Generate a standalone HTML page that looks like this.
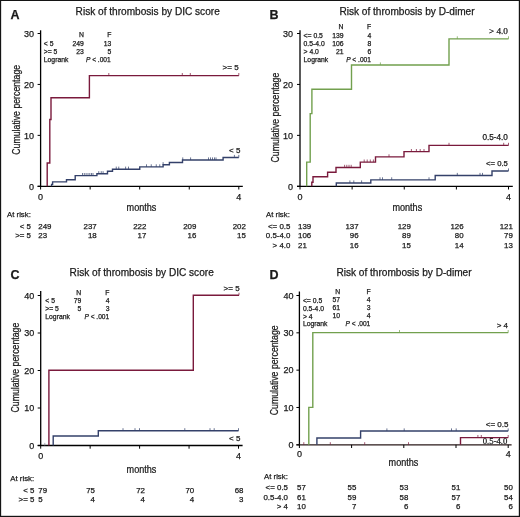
<!DOCTYPE html>
<html><head><meta charset="utf-8"><style>
html,body{margin:0;padding:0;background:#fff;}
body{width:520px;height:517px;overflow:hidden;}
svg{display:block;will-change:transform;}
text{font-family:"Liberation Sans",sans-serif;fill:#1a1a1a;stroke:#1a1a1a;stroke-width:0.25px;}
</style></head><body>
<svg width="520" height="517" viewBox="0 0 520 517">
<rect x="0" y="0" width="520" height="517" fill="#fff"/>
<text x="10.6" y="18.8" font-size="12.5" font-weight="bold" fill="#000">A</text>
<text x="75.6" y="14.8" font-size="10.1">Risk of thrombosis by DIC score</text>
<line x1="40.6" y1="30.3" x2="40.6" y2="186.9" stroke="#000" stroke-width="1.3"/>
<line x1="37.6" y1="186.3" x2="242.8" y2="186.3" stroke="#000" stroke-width="1.3"/>
<line x1="37.6" y1="186.30" x2="40.6" y2="186.30" stroke="#000" stroke-width="1"/>
<text x="34.0" y="189.50" font-size="9" text-anchor="end">0</text>
<line x1="37.6" y1="135.37" x2="40.6" y2="135.37" stroke="#000" stroke-width="1"/>
<text x="34.0" y="138.57" font-size="9" text-anchor="end">10</text>
<line x1="37.6" y1="84.43" x2="40.6" y2="84.43" stroke="#000" stroke-width="1"/>
<text x="34.0" y="87.63" font-size="9" text-anchor="end">20</text>
<line x1="37.6" y1="33.50" x2="40.6" y2="33.50" stroke="#000" stroke-width="1"/>
<text x="34.0" y="36.70" font-size="9" text-anchor="end">30</text>
<line x1="40.60" y1="186.3" x2="40.60" y2="189.5" stroke="#000" stroke-width="1"/>
<line x1="90.15" y1="186.3" x2="90.15" y2="189.5" stroke="#000" stroke-width="1"/>
<line x1="139.70" y1="186.3" x2="139.70" y2="189.5" stroke="#000" stroke-width="1"/>
<line x1="189.25" y1="186.3" x2="189.25" y2="189.5" stroke="#000" stroke-width="1"/>
<line x1="238.80" y1="186.3" x2="238.80" y2="189.5" stroke="#000" stroke-width="1"/>
<text x="40.60" y="199.8" font-size="9" text-anchor="middle">0</text>
<text x="238.80" y="199.8" font-size="9" text-anchor="middle">4</text>
<text transform="translate(20.0,109.8) rotate(-90) scale(0.875,1)" font-size="10" text-anchor="middle">Cumulative percentage</text>
<text transform="translate(126.6,211.0) scale(0.91,1)" font-size="10">months</text>
<path d="M47.2,186.3 V163 H49.8 V119.5 H51 V97.7 H89.4 V75.6 H238.8" fill="none" stroke="#7a1a3c" stroke-width="1.4" stroke-linejoin="miter" stroke-linecap="butt"/>
<path d="M108.8,75.6 v-2.6 M182.3,75.6 v-2.6 M190.3,75.6 v-2.6 M238.8,75.6 v-2.6" fill="none" stroke="#7a1a3c" stroke-width="0.85" opacity="0.85"/>
<path d="M51.6,186.3 V184.4 H52.6 V181.9 H66.5 V179.75 H75.2 V175.6 H96.9 V173.75 H107.5 V171.25 H112.5 V169.2 H139.75 V166.9 H163.1 V164.75 H169.4 V162.5 H182.5 V160 H223.1 V157.5 H238.8" fill="none" stroke="#34416a" stroke-width="1.4" stroke-linejoin="miter" stroke-linecap="butt"/>
<path d="M82.5,175.6 v-2.6 M84.3,175.6 v-2.6 M86.1,175.6 v-2.6 M88,175.6 v-2.6 M89.8,175.6 v-2.6 M91.5,175.6 v-2.6 M93,175.6 v-2.6 M98.75,173.75 v-2.6 M101.25,173.75 v-2.6 M103.1,173.75 v-2.6 M116.25,169.2 v-2.6 M118.75,169.2 v-2.6 M125.6,169.2 v-2.6 M128.5,169.2 v-2.6 M146.5,166.9 v-2.6 M151.25,166.9 v-2.6 M156.25,166.9 v-2.6 M159.75,166.9 v-2.6 M163.1,164.75 v-2.6 M182.75,160 v-2.6 M190.6,160 v-2.6 M208.5,160 v-2.6 M210.5,160 v-2.6 M212.5,160 v-2.6 M214.5,160 v-2.6 M216,160 v-2.6 M234.4,157.5 v-2.6 M238.8,157.5 v-2.6" fill="none" stroke="#34416a" stroke-width="0.85" opacity="0.85"/>
<text x="238.6" y="70.4" font-size="8" text-anchor="end">&gt;= 5</text>
<text x="240.4" y="152.6" font-size="8" text-anchor="end">&lt; 5</text>
<text x="83.9" y="37.2" font-size="6.8" text-anchor="end">N</text>
<text x="111.4" y="37.2" font-size="6.8" text-anchor="end">F</text>
<text x="43.8" y="45.5" font-size="6.8">&lt; 5</text>
<text x="83.9" y="45.5" font-size="6.8" text-anchor="end">249</text>
<text x="111.4" y="45.5" font-size="6.8" text-anchor="end">13</text>
<text x="43.8" y="53.5" font-size="6.8">&gt;= 5</text>
<text x="83.9" y="53.5" font-size="6.8" text-anchor="end">23</text>
<text x="111.4" y="53.5" font-size="6.8" text-anchor="end">5</text>
<text x="43.8" y="61.6" font-size="6.8">Logrank</text>
<text x="110.70" y="61.6" font-size="6.6" text-anchor="end"><tspan font-style="italic">P</tspan> &lt; .001</text>
<text x="7.0" y="217.2" font-size="7.8">At risk:</text>
<text x="31.0" y="228.8" font-size="7.9" text-anchor="end">&lt; 5</text>
<text x="38.3" y="228.8" font-size="7.9">249</text>
<text x="96.70" y="228.8" font-size="7.9" text-anchor="end">237</text>
<text x="146.40" y="228.8" font-size="7.9" text-anchor="end">222</text>
<text x="196.40" y="228.8" font-size="7.9" text-anchor="end">209</text>
<text x="245.90" y="228.8" font-size="7.9" text-anchor="end">202</text>
<text x="31.0" y="238.4" font-size="7.9" text-anchor="end">&gt;= 5</text>
<text x="38.3" y="238.4" font-size="7.9">23</text>
<text x="96.70" y="238.4" font-size="7.9" text-anchor="end">18</text>
<text x="146.40" y="238.4" font-size="7.9" text-anchor="end">17</text>
<text x="196.40" y="238.4" font-size="7.9" text-anchor="end">16</text>
<text x="245.90" y="238.4" font-size="7.9" text-anchor="end">15</text>
<text x="269.6" y="18.8" font-size="12.5" font-weight="bold" fill="#000">B</text>
<text x="339.4" y="14.8" font-size="10.1">Risk of thrombosis by D-dimer</text>
<line x1="300.0" y1="30.3" x2="300.0" y2="186.9" stroke="#000" stroke-width="1.3"/>
<line x1="297.0" y1="186.3" x2="512.8" y2="186.3" stroke="#000" stroke-width="1.3"/>
<line x1="297.0" y1="186.30" x2="300.0" y2="186.30" stroke="#000" stroke-width="1"/>
<text x="293.1" y="189.50" font-size="9" text-anchor="end">0</text>
<line x1="297.0" y1="135.37" x2="300.0" y2="135.37" stroke="#000" stroke-width="1"/>
<text x="293.1" y="138.57" font-size="9" text-anchor="end">10</text>
<line x1="297.0" y1="84.43" x2="300.0" y2="84.43" stroke="#000" stroke-width="1"/>
<text x="293.1" y="87.63" font-size="9" text-anchor="end">20</text>
<line x1="297.0" y1="33.50" x2="300.0" y2="33.50" stroke="#000" stroke-width="1"/>
<text x="293.1" y="36.70" font-size="9" text-anchor="end">30</text>
<line x1="300.00" y1="186.3" x2="300.00" y2="189.5" stroke="#000" stroke-width="1"/>
<line x1="352.12" y1="186.3" x2="352.12" y2="189.5" stroke="#000" stroke-width="1"/>
<line x1="404.25" y1="186.3" x2="404.25" y2="189.5" stroke="#000" stroke-width="1"/>
<line x1="456.38" y1="186.3" x2="456.38" y2="189.5" stroke="#000" stroke-width="1"/>
<line x1="508.50" y1="186.3" x2="508.50" y2="189.5" stroke="#000" stroke-width="1"/>
<text x="300.00" y="200.0" font-size="9" text-anchor="middle">0</text>
<text x="508.50" y="200.0" font-size="9" text-anchor="middle">4</text>
<text transform="translate(278.7,117.6) rotate(-90) scale(0.875,1)" font-size="10" text-anchor="middle">Cumulative percentage</text>
<text transform="translate(392.4,211.3) scale(0.91,1)" font-size="10">months</text>
<path d="M306.7,186.3 V162.1 H310.2 V113.6 H311.9 V89.2 H351.5 V65 H449 V38.9 H508.5" fill="none" stroke="#72a04e" stroke-width="1.4" stroke-linejoin="miter" stroke-linecap="butt"/>
<path d="M380.4,65 v-2.6 M457.3,38.9 v-2.6 M508.5,38.9 v-2.6" fill="none" stroke="#72a04e" stroke-width="0.85" opacity="0.85"/>
<path d="M311.8,186.3 V182.3 H313 V176.8 H327.6 V172.3 H336 V167.5 H360.3 V162.1 H375.5 V156.9 H404 V151.6 H429 V145.4 H508.5" fill="none" stroke="#7a1a3c" stroke-width="1.4" stroke-linejoin="miter" stroke-linecap="butt"/>
<path d="M344.6,167.4 v-2.6 M346.8,167.4 v-2.6 M349,167.4 v-2.6 M351.2,167.4 v-2.6 M364.2,162.1 v-2.6 M367.2,162.1 v-2.6 M370.3,162.1 v-2.6 M373.4,162.1 v-2.6 M389,156.9 v-2.6 M411.4,151.6 v-2.6 M416.4,151.6 v-2.6 M420.2,151.6 v-2.6 M424,151.6 v-2.6 M449,145.4 v-2.6 M503.7,145.4 v-2.6 M508.5,145.4 v-2.6" fill="none" stroke="#7a1a3c" stroke-width="0.85" opacity="0.85"/>
<path d="M336.3,186.3 V183 H370.8 V179.9 H435.2 V175.5 H492 V171 H508.5" fill="none" stroke="#34416a" stroke-width="1.4" stroke-linejoin="miter" stroke-linecap="butt"/>
<path d="M349.9,183 v-2.6 M353.8,183 v-2.6 M361.6,183 v-2.6 M380,179.9 v-2.6 M382.5,179.9 v-2.6 M391.7,179.9 v-2.6 M429,179.9 v-2.6 M457.3,175.5 v-2.6 M480,175.5 v-2.6 M482.5,175.5 v-2.6 M508.5,171 v-2.6" fill="none" stroke="#34416a" stroke-width="0.85" opacity="0.85"/>
<text x="507.9" y="33.5" font-size="9.2" text-anchor="end" style="font-family:&quot;Liberation Serif&quot;,serif">&gt; 4.0</text>
<text x="507.9" y="139.9" font-size="8.2" text-anchor="end">0.5-4.0</text>
<text x="507.9" y="165.5" font-size="7.7" text-anchor="end">&lt;= 0.5</text>
<text x="343.5" y="29.2" font-size="6.8" text-anchor="end">N</text>
<text x="371.2" y="29.2" font-size="6.8" text-anchor="end">F</text>
<text x="303.6" y="37.7" font-size="6.8">&lt;= 0.5</text>
<text x="343.5" y="37.7" font-size="6.8" text-anchor="end">139</text>
<text x="371.2" y="37.7" font-size="6.8" text-anchor="end">4</text>
<text x="303.6" y="45.6" font-size="6.8">0.5-4.0</text>
<text x="343.5" y="45.6" font-size="6.8" text-anchor="end">106</text>
<text x="371.2" y="45.6" font-size="6.8" text-anchor="end">8</text>
<text x="303.6" y="53.6" font-size="6.8">&gt; 4.0</text>
<text x="343.5" y="53.6" font-size="6.8" text-anchor="end">21</text>
<text x="371.2" y="53.6" font-size="6.8" text-anchor="end">6</text>
<text x="303.6" y="61.6" font-size="6.8">Logrank</text>
<text x="370.90" y="61.6" font-size="6.6" text-anchor="end"><tspan font-style="italic">P</tspan> &lt; .001</text>
<text x="266.0" y="217.2" font-size="7.8">At risk:</text>
<text x="290.4" y="228.8" font-size="7.9" text-anchor="end">&lt;= 0.5</text>
<text x="298.0" y="228.8" font-size="7.9">139</text>
<text x="358.60" y="228.8" font-size="7.9" text-anchor="end">137</text>
<text x="410.90" y="228.8" font-size="7.9" text-anchor="end">129</text>
<text x="463.60" y="228.8" font-size="7.9" text-anchor="end">126</text>
<text x="512.90" y="228.8" font-size="7.9" text-anchor="end">121</text>
<text x="290.4" y="238.3" font-size="7.9" text-anchor="end">0.5-4.0</text>
<text x="298.0" y="238.3" font-size="7.9">106</text>
<text x="358.60" y="238.3" font-size="7.9" text-anchor="end">96</text>
<text x="410.90" y="238.3" font-size="7.9" text-anchor="end">89</text>
<text x="463.60" y="238.3" font-size="7.9" text-anchor="end">80</text>
<text x="512.90" y="238.3" font-size="7.9" text-anchor="end">79</text>
<text x="290.4" y="247.6" font-size="7.9" text-anchor="end">&gt; 4.0</text>
<text x="298.0" y="247.6" font-size="7.9">21</text>
<text x="358.60" y="247.6" font-size="7.9" text-anchor="end">16</text>
<text x="410.90" y="247.6" font-size="7.9" text-anchor="end">15</text>
<text x="463.60" y="247.6" font-size="7.9" text-anchor="end">14</text>
<text x="512.90" y="247.6" font-size="7.9" text-anchor="end">13</text>
<text x="10.6" y="279.4" font-size="12.5" font-weight="bold" fill="#000">C</text>
<text x="69.6" y="276.0" font-size="10.1">Risk of thrombosis by DIC score</text>
<line x1="40.7" y1="291.0" x2="40.7" y2="446.1" stroke="#000" stroke-width="1.3"/>
<line x1="37.7" y1="445.5" x2="242.6" y2="445.5" stroke="#000" stroke-width="1.3"/>
<line x1="37.7" y1="445.50" x2="40.7" y2="445.50" stroke="#000" stroke-width="1"/>
<text x="34.2" y="448.70" font-size="9" text-anchor="end">0</text>
<line x1="37.7" y1="408.00" x2="40.7" y2="408.00" stroke="#000" stroke-width="1"/>
<text x="34.2" y="411.20" font-size="9" text-anchor="end">10</text>
<line x1="37.7" y1="370.50" x2="40.7" y2="370.50" stroke="#000" stroke-width="1"/>
<text x="34.2" y="373.70" font-size="9" text-anchor="end">20</text>
<line x1="37.7" y1="333.00" x2="40.7" y2="333.00" stroke="#000" stroke-width="1"/>
<text x="34.2" y="336.20" font-size="9" text-anchor="end">30</text>
<line x1="37.7" y1="295.50" x2="40.7" y2="295.50" stroke="#000" stroke-width="1"/>
<text x="34.2" y="298.70" font-size="9" text-anchor="end">40</text>
<line x1="40.70" y1="445.5" x2="40.70" y2="448.7" stroke="#000" stroke-width="1"/>
<line x1="90.15" y1="445.5" x2="90.15" y2="448.7" stroke="#000" stroke-width="1"/>
<line x1="139.60" y1="445.5" x2="139.60" y2="448.7" stroke="#000" stroke-width="1"/>
<line x1="189.05" y1="445.5" x2="189.05" y2="448.7" stroke="#000" stroke-width="1"/>
<line x1="238.50" y1="445.5" x2="238.50" y2="448.7" stroke="#000" stroke-width="1"/>
<text x="40.70" y="459.0" font-size="9" text-anchor="middle">0</text>
<text x="238.50" y="459.0" font-size="9" text-anchor="middle">4</text>
<text transform="translate(19.4,367.6) rotate(-90) scale(0.875,1)" font-size="10" text-anchor="middle">Cumulative percentage</text>
<text transform="translate(126.6,472.8) scale(0.91,1)" font-size="10">months</text>
<path d="M48.9,445.5 V370.3 H193.3 V295.3 H239" fill="none" stroke="#7a1a3c" stroke-width="1.4" stroke-linejoin="miter" stroke-linecap="butt"/>
<path d="M239,295.3 v-2.6" fill="none" stroke="#7a1a3c" stroke-width="0.85" opacity="0.85"/>
<path d="M44.8,445.5 v-2.6" fill="none" stroke="#8a8a9a" stroke-width="0.85" opacity="0.85"/>
<path d="M53.2,445.5 V436 H98.3 V430.8 H238.5" fill="none" stroke="#34416a" stroke-width="1.4" stroke-linejoin="miter" stroke-linecap="butt"/>
<path d="M123,430.8 v-2.6 M135,430.8 v-2.6 M139.5,430.8 v-2.6 M184.8,430.8 v-2.6 M210,430.8 v-2.6 M214.2,430.8 v-2.6 M238.5,430.8 v-2.6" fill="none" stroke="#34416a" stroke-width="0.85" opacity="0.85"/>
<text x="239.6" y="290.5" font-size="8" text-anchor="end">&gt;= 5</text>
<text x="240.4" y="440.8" font-size="8" text-anchor="end">&lt; 5</text>
<text x="81.2" y="294.6" font-size="6.8" text-anchor="end">N</text>
<text x="109.5" y="294.6" font-size="6.8" text-anchor="end">F</text>
<text x="45.3" y="303" font-size="6.8">&lt; 5</text>
<text x="81.2" y="303" font-size="6.8" text-anchor="end">79</text>
<text x="109.5" y="303" font-size="6.8" text-anchor="end">4</text>
<text x="45.3" y="311" font-size="6.8">&gt;= 5</text>
<text x="81.2" y="311" font-size="6.8" text-anchor="end">5</text>
<text x="109.5" y="311" font-size="6.8" text-anchor="end">3</text>
<text x="45.3" y="319" font-size="6.8">Logrank</text>
<text x="109.20" y="319" font-size="6.6" text-anchor="end"><tspan font-style="italic">P</tspan> &lt; .001</text>
<text x="10.3" y="481.0" font-size="7.8">At risk:</text>
<text x="34.4" y="493.0" font-size="7.9" text-anchor="end">&lt; 5</text>
<text x="38.3" y="493.0" font-size="7.9">79</text>
<text x="95.00" y="493.0" font-size="7.9" text-anchor="end">75</text>
<text x="145.00" y="493.0" font-size="7.9" text-anchor="end">72</text>
<text x="194.20" y="493.0" font-size="7.9" text-anchor="end">70</text>
<text x="243.50" y="493.0" font-size="7.9" text-anchor="end">68</text>
<text x="34.4" y="502.1" font-size="7.9" text-anchor="end">&gt;= 5</text>
<text x="38.3" y="502.1" font-size="7.9">5</text>
<text x="95.00" y="502.1" font-size="7.9" text-anchor="end">4</text>
<text x="145.00" y="502.1" font-size="7.9" text-anchor="end">4</text>
<text x="194.20" y="502.1" font-size="7.9" text-anchor="end">4</text>
<text x="243.50" y="502.1" font-size="7.9" text-anchor="end">3</text>
<text x="269.6" y="279.4" font-size="12.5" font-weight="bold" fill="#000">D</text>
<text x="336.4" y="275.9" font-size="10.1">Risk of thrombosis by D-dimer</text>
<line x1="299.4" y1="291.5" x2="299.4" y2="445.40000000000003" stroke="#000" stroke-width="1.3"/>
<line x1="296.4" y1="444.8" x2="511.6" y2="444.8" stroke="#2a1a1a" stroke-width="1.3"/>
<line x1="296.4" y1="444.80" x2="299.4" y2="444.80" stroke="#000" stroke-width="1"/>
<text x="293.6" y="448.00" font-size="9" text-anchor="end">0</text>
<line x1="296.4" y1="407.48" x2="299.4" y2="407.48" stroke="#000" stroke-width="1"/>
<text x="293.6" y="410.68" font-size="9" text-anchor="end">10</text>
<line x1="296.4" y1="370.15" x2="299.4" y2="370.15" stroke="#000" stroke-width="1"/>
<text x="293.6" y="373.35" font-size="9" text-anchor="end">20</text>
<line x1="296.4" y1="332.83" x2="299.4" y2="332.83" stroke="#000" stroke-width="1"/>
<text x="293.6" y="336.03" font-size="9" text-anchor="end">30</text>
<line x1="296.4" y1="295.50" x2="299.4" y2="295.50" stroke="#000" stroke-width="1"/>
<text x="293.6" y="298.70" font-size="9" text-anchor="end">40</text>
<line x1="299.40" y1="444.8" x2="299.40" y2="448.0" stroke="#000" stroke-width="1"/>
<line x1="351.60" y1="444.8" x2="351.60" y2="448.0" stroke="#000" stroke-width="1"/>
<line x1="403.80" y1="444.8" x2="403.80" y2="448.0" stroke="#000" stroke-width="1"/>
<line x1="456.00" y1="444.8" x2="456.00" y2="448.0" stroke="#000" stroke-width="1"/>
<line x1="508.20" y1="444.8" x2="508.20" y2="448.0" stroke="#000" stroke-width="1"/>
<text x="299.40" y="456.6" font-size="9" text-anchor="middle">0</text>
<text x="508.20" y="456.6" font-size="9" text-anchor="middle">4</text>
<text transform="translate(277.7,370.3) rotate(-90) scale(0.875,1)" font-size="10" text-anchor="middle">Cumulative percentage</text>
<text transform="translate(388.6,466.0) scale(0.91,1)" font-size="10">months</text>
<path d="M308.8,444.8 V407.4 H312.8 V332.6 H508.2" fill="none" stroke="#72a04e" stroke-width="1.4" stroke-linejoin="miter" stroke-linecap="butt"/>
<path d="M399.5,332.6 v-2.6 M508.2,332.6 v-2.6" fill="none" stroke="#72a04e" stroke-width="0.85" opacity="0.85"/>
<path d="M316.9,444.8 V438 H360.6 V431 H508.2" fill="none" stroke="#34416a" stroke-width="1.4" stroke-linejoin="miter" stroke-linecap="butt"/>
<path d="M386.9,431 v-2.6 M404.2,431 v-2.6 M451.5,431 v-2.6 M456.2,431 v-2.6 M508.2,431 v-2.6" fill="none" stroke="#34416a" stroke-width="0.85" opacity="0.85"/>
<path d="M460.5,444.8 V437.6 H508.2" fill="none" stroke="#7a1a3c" stroke-width="1.4" stroke-linejoin="miter" stroke-linecap="butt"/>
<path d="M477.9,437.6 v-2.6 M481.3,437.6 v-2.6 M508.2,437.6 v-2.6" fill="none" stroke="#7a1a3c" stroke-width="0.85" opacity="0.85"/>
<path d="M303.8,444.8 v-2.6 M330.3,444.8 v-2.6 M364.7,444.8 v-2.6 M408.5,444.8 v-2.6" fill="none" stroke="#7a1a3c" stroke-width="0.85" opacity="0.85"/>
<text x="508.0" y="327.9" font-size="8" text-anchor="end">&gt; 4</text>
<text x="508.4" y="426.5" font-size="8" text-anchor="end">&lt;= 0.5</text>
<text x="507.4" y="444.1" font-size="8.7" text-anchor="end" style="font-family:&quot;Liberation Serif&quot;,serif">0.5-4.0</text>
<text x="340.1" y="293.7" font-size="6.8" text-anchor="end">N</text>
<text x="370.6" y="293.7" font-size="6.8" text-anchor="end">F</text>
<text x="302.9" y="303.0" font-size="6.8">&lt;= 0.5</text>
<text x="340.1" y="302" font-size="6.8" text-anchor="end">57</text>
<text x="370.6" y="302" font-size="6.8" text-anchor="end">4</text>
<text x="302.9" y="311.0" font-size="6.8">0.5-4.0</text>
<text x="340.1" y="310" font-size="6.8" text-anchor="end">61</text>
<text x="370.6" y="310" font-size="6.8" text-anchor="end">3</text>
<text x="302.9" y="319.0" font-size="6.8">&gt; 4</text>
<text x="340.1" y="318" font-size="6.8" text-anchor="end">10</text>
<text x="370.6" y="318" font-size="6.8" text-anchor="end">4</text>
<text x="302.9" y="326" font-size="6.8">Logrank</text>
<text x="370.30" y="326" font-size="6.6" text-anchor="end"><tspan font-style="italic">P</tspan> &lt; .001</text>
<text x="264.0" y="479.0" font-size="7.8">At risk:</text>
<text x="288.0" y="490.0" font-size="7.9" text-anchor="end">&lt;= 0.5</text>
<text x="297.0" y="490.0" font-size="7.9">57</text>
<text x="356.40" y="490.0" font-size="7.9" text-anchor="end">55</text>
<text x="408.40" y="490.0" font-size="7.9" text-anchor="end">53</text>
<text x="460.40" y="490.0" font-size="7.9" text-anchor="end">51</text>
<text x="512.90" y="490.0" font-size="7.9" text-anchor="end">50</text>
<text x="288.0" y="499.5" font-size="7.9" text-anchor="end">0.5-4.0</text>
<text x="297.0" y="499.5" font-size="7.9">61</text>
<text x="356.40" y="499.5" font-size="7.9" text-anchor="end">59</text>
<text x="408.40" y="499.5" font-size="7.9" text-anchor="end">58</text>
<text x="460.40" y="499.5" font-size="7.9" text-anchor="end">57</text>
<text x="512.90" y="499.5" font-size="7.9" text-anchor="end">54</text>
<text x="288.0" y="509.0" font-size="7.9" text-anchor="end">&gt; 4</text>
<text x="297.0" y="509.0" font-size="7.9">10</text>
<text x="356.40" y="509.0" font-size="7.9" text-anchor="end">7</text>
<text x="408.40" y="509.0" font-size="7.9" text-anchor="end">6</text>
<text x="460.40" y="509.0" font-size="7.9" text-anchor="end">6</text>
<text x="512.90" y="509.0" font-size="7.9" text-anchor="end">6</text>
<rect x="0" y="0" width="1.15" height="517" fill="#141414"/>
<rect x="0" y="0" width="520" height="1.0" fill="#141414"/>
<rect x="518.8" y="0" width="1.2" height="517" fill="#141414"/>
<rect x="0" y="515.8" width="520" height="1.2" fill="#141414"/>
</svg>
</body></html>
